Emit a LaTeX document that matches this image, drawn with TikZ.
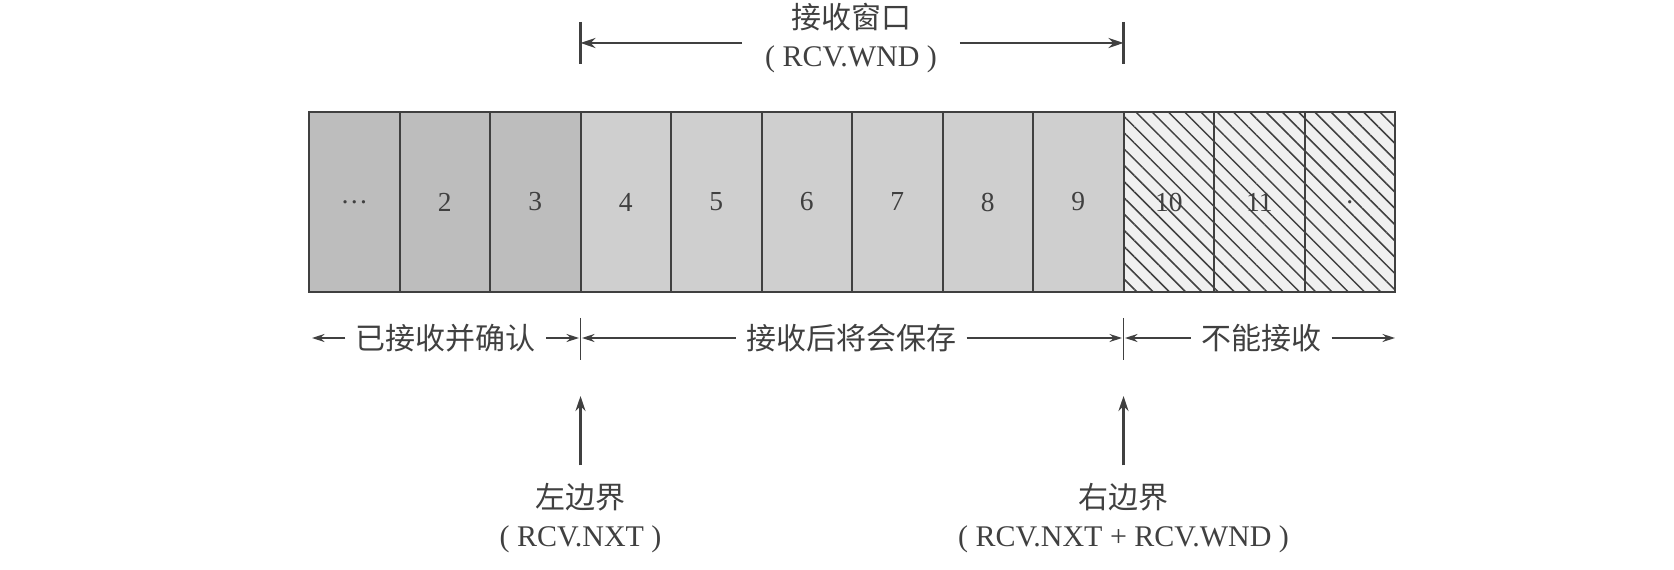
\documentclass[tikz,border=0pt]{standalone}
\usepackage{fontspec}
\setmainfont{Liberation Serif}
\newfontfamily\cjk{Noto Sans CJK SC}
\usetikzlibrary{arrows.meta,patterns.meta}
\definecolor{ink}{gray}{0.25}
\definecolor{ackseg}{gray}{0.74}
\definecolor{winseg}{gray}{0.81}
\definecolor{farseg}{gray}{0.94}
\begin{document}
\begin{tikzpicture}[x=0.4pt, y=-0.4pt, text=ink,
    seg/.style={draw=ink, line width=0.8pt, minimum width=36.2pt, minimum height=72pt,
        inner sep=0pt, outer sep=0pt, font=\fontsize{11pt}{13pt}\selectfont},
    hatch/.style={preaction={fill=farseg}, pattern={Lines[angle=-45,distance=4.6pt,line width=0.6pt]},
        pattern color=ink},
    lbl/.style={inner xsep=4pt, font=\cjk\fontsize{12pt}{15pt}\selectfont},
    tick/.style={draw=ink, line width=0.55pt},
    bar/.style={draw=ink, line width=0.55pt, -{Stealth[length=5pt,width=3.2pt]}},
    wbar/.style={draw=ink, line width=1.1pt, -{Stealth[length=6pt,width=4pt]}}]
\useasboundingbox (0,0) rectangle (1674,570);
\foreach \i/\t in {1/\dots,2/2,3/3}
    \node[seg, fill=ackseg] (c\i) at ({309+90.5*(\i-0.5)},202) {\t};
\foreach \i in {4,...,9}
    \node[seg, fill=winseg] (c\i) at ({309+90.5*(\i-0.5)},202) {\i};
\foreach \i/\t in {10/10,11/11,12/.}
    \node[seg, hatch] (c\i) at ({309+90.5*(\i-0.5)},202) {\t};

\node[lbl, inner xsep=9pt, align=center] (wnd) at (851,38) {接收窗口\\{\rmfamily( RCV.WND )}};
\coordinate (wl) at (580.5,43);
\coordinate (wr) at (1123.5,43);
\draw[tick, line width=1.1pt] (580.5,22) -- (580.5,64);
\draw[tick, line width=1.1pt] (1123.5,22) -- (1123.5,64);
\draw[wbar] (wnd.west |- wl) -- (wl);
\draw[wbar] (wnd.east |- wr) -- (wr);

\node[lbl] (acked) at (445.8,338) {已接收并确认};
\node[lbl] (saved) at (851,338) {接收后将会保存};
\node[lbl] (noacc) at (1261,338) {不能接收};
\coordinate (a0) at (312,338);
\coordinate (aL) at (579,338);
\coordinate (aR) at (582,338);
\coordinate (bL) at (1122,338);
\coordinate (bR) at (1125,338);
\coordinate (b1) at (1395,338);
\draw[tick] (580.5,318) -- (580.5,360);
\draw[tick] (1123.5,318) -- (1123.5,360);
\draw[bar] (acked) -- (a0);
\draw[bar] (acked) -- (aL);
\draw[bar] (saved) -- (aR);
\draw[bar] (saved) -- (bL);
\draw[bar] (noacc) -- (bR);
\draw[bar] (noacc) -- (b1);

\node[lbl, align=center, inner ysep=7pt] (lb) at (580.5,518) {左边界\\{\rmfamily( RCV.NXT )}};
\node[lbl, align=center, inner ysep=7pt] (rb) at (1123.5,518) {右边界\\{\rmfamily( RCV.NXT + RCV.WND )}};
\coordinate (lt) at (580.5,396);
\coordinate (rt) at (1123.5,396);
\draw[wbar] (lb) -- (lt);
\draw[wbar] (rb) -- (rt);
\end{tikzpicture}
\end{document}
